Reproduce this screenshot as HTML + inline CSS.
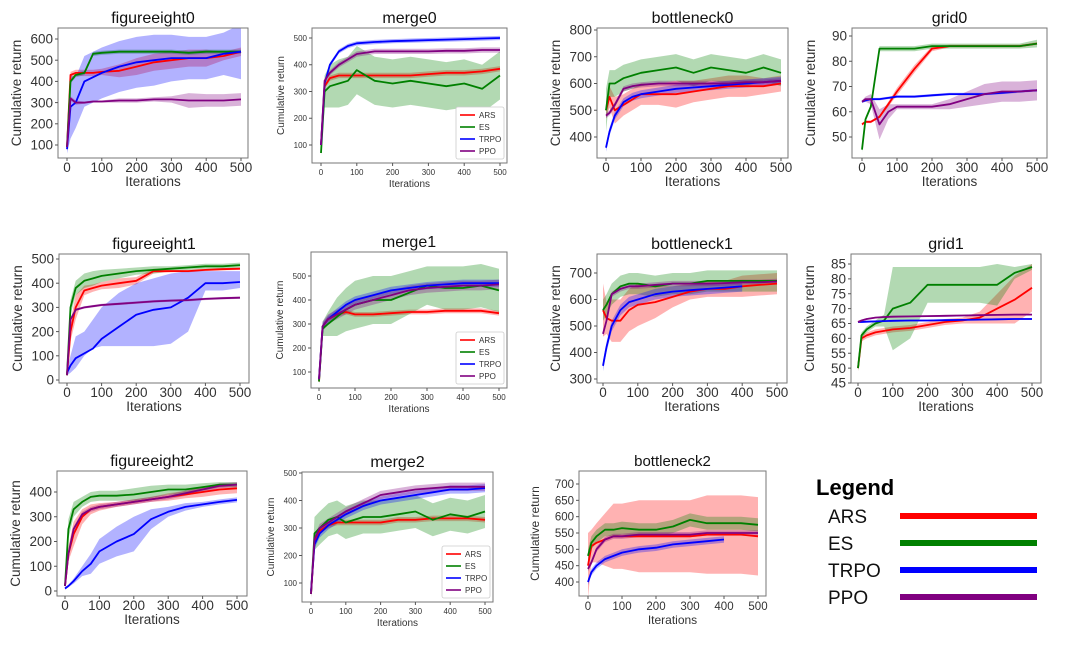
<!DOCTYPE html>
<html><head><meta charset="utf-8"><style>
html,body{margin:0;padding:0;background:#fff;width:1080px;height:646px;overflow:hidden}
svg{display:block;font-family:"Liberation Sans",sans-serif}
</style></head><body>
<svg id="fig" width="1080" height="646" viewBox="0 0 1080 646"></svg>
<script>
const iters=[0,10,25,50,75,100,150,200,250,300,350,400,450,500];
const algos=["ARS","ES","TRPO","PPO"];
const lineColors=["#ff0000","#008000","#0000ff","#800080"];
const bandColors=["rgba(255,0,0,0.3)","rgba(0,128,0,0.3)","rgba(0,0,255,0.3)","rgba(128,0,128,0.3)"];
const xTicks=[0,100,200,300,400,500];

const fe0_mean=[[90,430,440,440,440,445,450,470,490,500,510,510,520,540],[90,400,430,440,530,535,540,540,540,540,535,540,540,540],[80,280,300,400,420,440,470,490,500,510,510,510,530,540],[90,320,300,300,305,305,310,310,315,315,310,310,310,315]];
const fe0_band=[[10,15,15,15,15,15,30,40,40,40,40,40,20,20],[10,10,10,10,10,10,10,10,10,10,10,10,10,10],[20,150,120,120,120,120,120,120,120,110,100,100,100,130],[10,10,10,5,5,5,10,10,10,15,35,30,30,30]];
const mg0_mean=[[100,320,350,360,360,360,360,360,360,365,370,370,375,385],[70,300,320,330,340,380,340,330,340,330,320,330,310,360],[100,330,400,450,470,480,485,488,490,492,494,496,498,500],[100,340,370,400,420,440,450,450,450,450,452,452,455,455]];
const mg0_band=[[10,10,10,10,10,10,10,10,10,10,10,10,10,10],[10,60,80,90,90,90,90,90,90,90,90,90,90,90],[8,8,8,8,8,8,8,8,8,8,8,8,8,8],[10,10,10,10,10,10,10,10,10,10,10,10,10,10]];
const bn0_mean=[[500,550,500,520,540,560,560,560,570,580,590,590,590,600],[500,600,600,620,630,640,650,660,640,660,650,640,660,640],[360,420,480,530,550,560,570,580,585,590,595,600,605,610],[480,490,520,580,590,595,600,600,600,600,600,605,605,610]];
const bn0_band=[[30,40,50,40,40,40,40,50,40,40,40,40,30,30],[80,50,50,50,50,50,50,50,50,50,50,50,50,50],[15,15,15,15,15,15,15,15,15,15,15,15,15,15],[10,10,10,10,10,10,10,10,10,10,10,10,10,10]];
const gr0_mean=[[55,56,56,58,63,68,77,85,86,86,86,86,86,87],[45,57,62,85,85,85,85,86,86,86,86,86,86,87],[64,64.5,65,65,65.5,66,66,66.5,67,67,67,67.5,68,68.5],[64,65,65,55,60,62,62,62,63,65,67,68,68,68.5]];
const gr0_band=[[0.5,0.5,0.5,0.5,1,1.5,1.5,1,0.5,0.5,0.5,0.5,0.5,0.5],[1,1,1,1,1,1,1,1,1,1,1,1,1,1.5],[0.5,0.5,0.5,0.5,0.5,0.5,0.5,0.5,0.5,0.5,0.5,0.5,0.5,0.5],[0.5,1,2,6,3,1,1,1,2,3,4,4,4,4]];

const fe1_mean=[[20,200,300,370,380,390,400,410,450,450,450,455,458,460],[20,300,380,410,420,430,440,450,455,460,465,470,470,475],[30,60,90,110,130,170,220,270,290,300,340,400,400,405],[20,250,290,300,305,310,315,320,325,328,330,335,338,340]];
const fe1_band=[[5,40,50,20,15,15,20,15,10,5,5,5,5,5],[5,30,30,30,30,25,20,15,15,10,10,10,10,10],[10,40,60,80,150,170,150,140,150,150,100,40,40,40],[5,5,5,5,5,5,5,5,5,5,5,5,5,5]];
const fe1_trpo_lo=[20,30,50,100,130,140,140,140,140,150,200,370,370,380];
const fe1_trpo_hi=[40,100,180,200,250,300,360,400,420,440,450,450,450,450];
const mg1_mean=[[60,290,320,340,350,340,340,345,350,350,355,355,355,345],[60,280,300,330,360,380,400,400,430,460,450,450,460,440],[70,290,320,350,380,400,420,440,450,460,465,470,470,470],[70,290,320,340,360,380,400,420,440,450,455,460,460,465]];
const mg1_band=[[10,10,10,10,10,10,10,10,10,10,10,10,10,10],[5,30,50,80,90,100,100,100,90,80,90,90,90,90],[15,15,15,15,15,15,15,15,15,15,15,15,15,15],[20,20,20,20,20,20,20,20,20,20,20,20,20,20]];
const bn1_mean=[[560,530,520,520,560,580,590,610,630,640,640,650,655,660],[560,580,620,650,660,660,650,660,660,670,670,670,670,670],[350,420,500,560,590,600,620,630,635,640,645,650],[470,520,620,640,650,650,655,660,660,660,662,665,665,668]];
const bn1_band=[[100,60,80,80,80,80,60,40,30,30,30,40,40,40],[40,40,40,40,40,40,40,40,40,40,40,40,40,40],[20,20,20,20,20,20,20,20,20,20,20,20],[10,10,10,10,10,10,10,10,10,10,10,10,10,10]];
const gr1_mean=[[50,60,61,62,62.5,63,63.5,64.5,65.5,66,67,70,73,77],[50,61,63,65,66,70,72,78,78,78,78,78,82,84],[65.5,65.5,65.6,65.7,65.8,65.9,66,66,66.1,66.2,66.3,66.4,66.5,66.5],[65.5,66,66.5,67,67.2,67.3,67.4,67.5,67.6,67.7,67.8,67.9,68,68]];
const gr1_band=[[1,1,1,1,1,1,1,1,1,1,2,5,8,8],[1,1,1,1,2,14,12,6,6,6,6,7,2,1],[0.3,0.3,0.3,0.3,0.3,0.3,0.3,0.3,0.3,0.3,0.3,0.3,0.3,0.3],[0.3,0.3,0.3,0.3,0.3,0.3,0.3,0.3,0.3,0.3,0.3,0.3,0.3,0.3]];

const fe2_mean=[[20,150,230,300,330,340,350,360,370,380,390,400,410,415],[20,250,330,360,380,385,385,390,400,410,410,420,430,430],[10,20,40,80,110,160,200,230,290,320,340,350,360,368],[20,150,250,310,330,340,350,360,370,380,395,410,425,430]];
const fe2_band=[[5,30,50,30,20,15,10,10,10,15,15,20,20,20],[5,40,30,20,20,20,20,25,25,20,20,15,10,10],[5,5,10,20,40,50,60,70,40,20,15,10,10,10],[10,10,10,10,10,10,10,10,10,10,10,10,10,10]];
const mg2_mean=[[60,250,290,310,320,320,320,320,330,330,335,335,335,330],[60,280,300,330,340,320,340,340,350,360,330,350,340,360],[70,240,280,310,330,350,380,400,410,420,430,440,440,445],[60,260,300,320,340,360,390,420,430,440,445,450,450,450]];
const mg2_band=[[10,10,10,10,10,10,10,10,10,10,10,10,10,10],[10,60,60,60,60,60,60,60,60,60,60,60,60,60],[15,15,15,15,15,15,15,15,15,15,15,15,15,15],[15,15,15,15,15,15,15,15,15,15,15,15,15,15]];
const bn2_mean=[[450,510,520,530,540,540,540,540,540,540,545,545,545,540],[480,520,540,560,560,565,560,560,570,590,580,580,580,575],[400,430,450,470,480,490,500,505,515,520,525,530],[440,460,500,530,540,540,545,545,545,545,550,550,550,550]];
const bn2_band=[[100,50,60,80,100,100,110,110,110,110,120,120,120,120],[20,20,20,20,20,20,20,20,20,20,20,20,20,20],[10,10,10,10,10,10,10,10,10,10,10,10],[8,8,8,8,8,8,8,8,8,8,8,8,8,8]];

const fe0_yt=[100,200,300,400,500,600], mg0_yt=[100,200,300,400,500], bn0_yt=[400,500,600,700,800], gr0_yt=[50,60,70,80,90];
const fe1_yt=[0,100,200,300,400,500], mg1_yt=[100,200,300,400,500], bn1_yt=[300,400,500,600,700], gr1_yt=[45,50,55,60,65,70,75,80,85];
const fe2_yt=[0,100,200,300,400], mg2_yt=[100,200,300,400,500], bn2_yt=[400,450,500,550,600,650,700];

const panels=[
 {name:"figureeight0",box:[58,28,248,158],x0:67,x1:241,ya:[100,145],yb:[600,39],mean:fe0_mean,band:fe0_band,yt:fe0_yt,small:false},
 {name:"merge0",box:[312,28,507,163],x0:321,x1:500,ya:[100,145],yb:[500,38],mean:mg0_mean,band:mg0_band,yt:mg0_yt,small:true},
 {name:"bottleneck0",box:[597,28,788,158],x0:606,x1:781,ya:[400,137],yb:[800,30],mean:bn0_mean,band:bn0_band,yt:bn0_yt,small:false},
 {name:"grid0",box:[852,28,1047,158],x0:862,x1:1037,ya:[50,137],yb:[90,36],mean:gr0_mean,band:gr0_band,yt:gr0_yt,small:false},
 {name:"figureeight1",box:[59,254,249,383],x0:67,x1:240,ya:[0,380],yb:[500,259],mean:fe1_mean,band:fe1_band,yt:fe1_yt,small:false,custom:{2:[fe1_trpo_lo,fe1_trpo_hi]}},
 {name:"merge1",box:[311,252,507,388],x0:319,x1:499,ya:[100,372],yb:[500,276],mean:mg1_mean,band:mg1_band,yt:mg1_yt,small:true},
 {name:"bottleneck1",box:[597,254,787,383],x0:603,x1:777,ya:[300,379],yb:[700,273],mean:bn1_mean,band:bn1_band,yt:bn1_yt,small:false},
 {name:"grid1",box:[851,254,1041,383],x0:858,x1:1032,ya:[45,383],yb:[85,264],mean:gr1_mean,band:gr1_band,yt:gr1_yt,small:false},
 {name:"figureeight2",box:[57,471,247,596],x0:65,x1:237,ya:[0,591],yb:[400,492],mean:fe2_mean,band:fe2_band,yt:fe2_yt,small:false},
 {name:"merge2",box:[302,472,493,602],x0:311,x1:485,ya:[100,583],yb:[500,473],mean:mg2_mean,band:mg2_band,yt:mg2_yt,small:true},
 {name:"bottleneck2",box:[579,471,766,596],x0:588,x1:758,ya:[400,582],yb:[700,484],mean:bn2_mean,band:bn2_band,yt:bn2_yt,small:false,mid:true}
];
const NS="http://www.w3.org/2000/svg";
const fig=document.getElementById('fig');
function mk(tag,attrs,parent,text){const e=document.createElementNS(NS,tag);for(const k in attrs)e.setAttribute(k,attrs[k]);if(text!==undefined)e.textContent=text;parent.appendChild(e);return e;}

panels.forEach(p=>{
  const g=mk('g',{},fig);
  
  
  const [L,T,R,B]=p.box;
  const xs=v=>p.x0+(v/500)*(p.x1-p.x0);
  const ys=v=>p.ya[1]+(v-p.ya[0])*(p.yb[1]-p.ya[1])/(p.yb[0]-p.ya[0]);
  const clip='c_'+p.name;
  const cp=mk('clipPath',{id:clip},g);mk('rect',{x:L,y:T,width:R-L,height:B-T},cp);
  const plot=mk('g',{'clip-path':'url(#'+clip+')'},g);
  p.mean.forEach((m,i)=>{
    const bd=p.band[i];
    const cu=p.custom&&p.custom[i];
    let up=[],lo=[];
    m.forEach((v,k)=>{
      const hi=cu?cu[1][k]:v+bd[k], lw=cu?cu[0][k]:v-bd[k];
      up.push(xs(iters[k]).toFixed(1)+','+ys(hi).toFixed(1));
      lo.unshift(xs(iters[k]).toFixed(1)+','+ys(lw).toFixed(1));
    });
    const b=mk('polygon',{points:up.concat(lo).join(' '),fill:bandColors[i],stroke:'none'},plot);
    
    
  });
  p.mean.forEach((m,i)=>{
    const pts=m.map((v,k)=>xs(iters[k]).toFixed(1)+','+ys(v).toFixed(1)).join(' ');
    const l=mk('polyline',{points:pts,fill:'none',stroke:lineColors[i],'stroke-width':1.8,'stroke-linejoin':'round'},plot);
    
    
  });
  const fr=mk('rect',{x:L,y:T,width:R-L,height:B-T,fill:'none',stroke:'#777','stroke-width':1},g);
  
  
  const tf=p.small?8:(p.mid?11.5:13.5), lf=p.small?10:(p.mid?12:13.5);
  xTicks.forEach(t=>{
    mk('line',{x1:xs(t),x2:xs(t),y1:B,y2:B+3,stroke:'#555'},g);
    const tx=mk('text',{x:xs(t),y:B+(p.small?12:14),'font-size':tf,'text-anchor':'middle',fill:'#333'},g,String(t));
    
    
  });
  p.yt.forEach(t=>{
    mk('line',{x1:L-3,x2:L,y1:ys(t),y2:ys(t),stroke:'#555'},g);
    const tx=mk('text',{x:L-5,y:ys(t)+tf*0.35,'font-size':tf,'text-anchor':'end',fill:'#333'},g,String(t));
    
    
  });
  const ti=mk('text',{x:(L+R)/2,y:T-5,'font-size':p.mid?15:16,'text-anchor':'middle',fill:'#111'},g,p.name);
  
  
  const xl=mk('text',{x:(L+R)/2,y:B+(p.small?24:28),'font-size':lf,'text-anchor':'middle',fill:'#333'},g,'Iterations');
  
  
  const yx=L-(p.small?28:(p.mid?40:37)), yc=(T+B)/2;
  const yl=mk('text',{x:yx,y:yc,'font-size':lf,'text-anchor':'middle',fill:'#333',transform:'rotate(-90 '+yx+' '+yc+')'},g,'Cumulative return');
  
  
  if(p.small){
    const lg=mk('g',{},g);
    
    
    const lx=R-51, ly=B-56;
    mk('rect',{x:lx,y:ly,width:48,height:52,fill:'#fff',stroke:'#ccc','stroke-width':0.8,rx:2},lg);
    algos.forEach((a,i)=>{
      const yy=ly+8+i*12;
      mk('line',{x1:lx+4,x2:lx+19,y1:yy,y2:yy,stroke:lineColors[i],'stroke-width':1.6},lg);
      const et=mk('text',{x:lx+23,y:yy+3,'font-size':8,fill:'#333'},lg,a);
      
      
    });
  }
});
const BL=mk('g',{},fig);


const lt=mk('text',{x:816,y:495,'font-size':22,'font-weight':'bold',fill:'#000'},BL,'Legend');


algos.forEach((a,i)=>{
  const yy=516+i*27;
  const t=mk('text',{x:828,y:yy+7,'font-size':19,fill:'#111'},BL,a);
  
  
  const r=mk('rect',{x:900,y:yy-3,width:137,height:6,fill:lineColors[i]},BL);
  
  
});
</script>
</body></html>
